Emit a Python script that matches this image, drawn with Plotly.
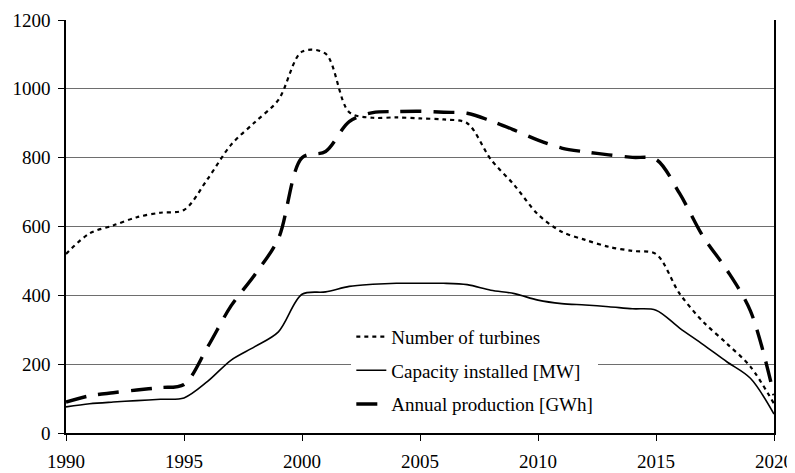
import plotly.graph_objects as go

years = list(range(1990, 2021))
turbines = [520, 580, 603, 627, 640, 648, 738, 838, 903, 968, 1108, 1102, 932, 916, 917, 914, 911, 900, 795, 720, 635, 585, 561, 541, 529, 520, 405, 323, 260, 193, 85]
capacity = [76, 85, 90, 94, 98, 102, 150, 212, 251, 294, 403, 410, 426, 432, 435, 435, 435, 431, 415, 405, 386, 376, 372, 367, 361, 357, 305, 257, 207, 159, 55]
production = [90, 108, 117, 125, 132, 141, 250, 370, 460, 565, 800, 818, 905, 931, 934, 935, 932, 929, 907, 880, 851, 828, 817, 808, 801, 795, 696, 570, 474, 355, 110]
series_names = ["Number of turbines", "Capacity installed [MW]", "Annual production [GWh]"]
x_ticks = [1990, 1995, 2000, 2005, 2010, 2015, 2020]
y_ticks = [0, 200, 400, 600, 800, 1000, 1200]

FONT = "Liberation Serif, Times New Roman, serif"
FS = 19

fig = go.Figure()
fig.add_trace(go.Scatter(x=years, y=turbines, name=series_names[0], mode="lines", legendgroup="a",
                         line=dict(color="black", width=2.2, dash="4px,4px", shape="spline", smoothing=0.9)))
fig.add_trace(go.Scatter(x=years, y=capacity, name=series_names[1], mode="lines", legendgroup="b",
                         line=dict(color="black", width=1.6, shape="spline", smoothing=0.9)))
fig.add_trace(go.Scatter(x=years, y=production, name=series_names[2], mode="lines", legendgroup="c",
                         line=dict(color="black", width=3.4, dash="21px,12px", shape="spline", smoothing=0.9)))

# white backing behind the legend that hides part of the 200 gridline, as in the reference
fig.add_shape(type="rect", xref="paper", yref="paper", x0=0.331, x1=0.836, y0=0.10, y1=0.23,
              fillcolor="white", line=dict(width=0), layer="between")

# page body has an 8px margin, so the figure is sized to fit the 795x473 window
fig.update_layout(
    width=787, height=465,
    margin=dict(l=58, r=21, t=12, b=40, autoexpand=False),
    paper_bgcolor="white", plot_bgcolor="white",
    font=dict(family=FONT, size=FS, color="black"),
    showlegend=True,
    legend=dict(x=0.403, y=0.279, xanchor="left", yanchor="top",
                bgcolor="white", borderwidth=0, font=dict(size=FS, family=FONT),
                traceorder="grouped", tracegroupgap=6, itemwidth=30),
    xaxis=dict(range=[1990, 2020], tickvals=x_ticks, showgrid=False, zeroline=False, automargin=False,
               showline=True, linecolor="black", linewidth=1.5, ticks="outside", ticklen=6,
               tickcolor="black", ticklabelstandoff=4, tickfont=dict(size=FS, family=FONT)),
    yaxis=dict(range=[0, 1200], tickvals=y_ticks, showgrid=True, gridcolor="#6e6e6e", gridwidth=1,
               zeroline=False, showline=True, linecolor="black", linewidth=1.5, mirror=True, automargin=False,
               ticks="outside", ticklen=6, tickcolor="black", ticklabelstandoff=4,
               tickfont=dict(size=FS, family=FONT)),
)

fig.write_html("out.html")
